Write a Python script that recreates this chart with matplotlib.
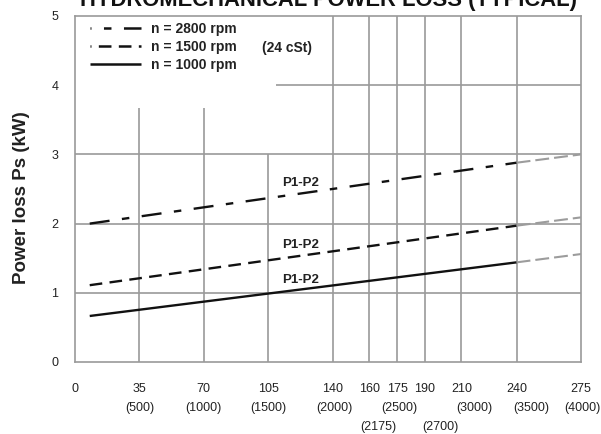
import matplotlib
matplotlib.use("Agg")
import matplotlib.pyplot as plt
from matplotlib.lines import Line2D

plt.rcParams['font.family'] = ['Liberation Sans', 'DejaVu Sans']
plt.rcParams['lines.scale_dashes'] = False

# ---- data ----
x_ticks = [0, 35, 70, 105, 140, 160, 175, 190, 210, 240, 275]
y_ticks = [0, 1, 2, 3, 4, 5]
rpm_labels = ["(500)", "(1000)", "(1500)", "(2000)", "(2500)", "(3000)", "(3500)", "(4000)"]
rpm_pos = [35, 70, 105, 141, 176.5, 217, 248, 276]
rpm_labels2 = ["(2175)", "(2700)"]
rpm_pos2 = [165, 198.5]

x_pts = [8, 240, 275]          # start, end of solid (black) part, end of grey extension
loss_2800 = [2.00, 2.88, 3.00]
loss_1500 = [1.11, 1.97, 2.09]
loss_1000 = [0.665, 1.44, 1.56]
series_names = ["n = 2800 rpm", "n = 1500 rpm", "n = 1000 rpm"]
label_pos_x = 122.8
label_pos_y = [2.59, 1.69, 1.185]

# gridline extents
vgrid_x = [35, 70, 105, 140, 160, 175, 190, 210, 240]
vgrid_top = [3.67, 3.67, 3.0, 5, 5, 5, 5, 5, 5]
hgrid_y = [1, 2, 3, 4]
hgrid_start = [0, 0, 0, 109]

GRID = "#9a9a9a"
TXT = "#222222"

fig = plt.figure(figsize=(6.01, 4.34), dpi=100)
ax = fig.add_axes([75/601, 1-362/434, 506/601, 346/434])
ax.set_xlim(0, 275)
ax.set_ylim(0, 5)

for s in ax.spines.values():
    s.set_color(GRID)
    s.set_linewidth(1.2)

ax.vlines(vgrid_x, 0, vgrid_top, colors=GRID, lw=1.2, zorder=1)
ax.hlines(hgrid_y, hgrid_start, 275, colors=GRID, lw=1.2, zorder=1)

ls_2800 = (0, (14.4, 9.0, 5.4, 9.0))
ls_1500 = (0, (9.1, 5.3))
ls_grey = (0, (10.0, 3.6))

series = [loss_2800, loss_1500, loss_1000]
styles = [ls_2800, ls_1500, '-']
for vals, st in zip(series, styles):
    ax.plot(x_pts[:2], vals[:2], color="#111111", lw=1.7, linestyle=st, zorder=3,
            solid_capstyle='butt', dash_capstyle='butt')
    ax.plot(x_pts[1:], vals[1:], color="#9c9c9c", lw=1.5, linestyle=ls_grey, zorder=3,
            dash_capstyle='butt')

for yv in label_pos_y:
    ax.text(label_pos_x, yv, "P1-P2", ha='center', va='center', fontsize=9.5,
            fontweight='bold', color=TXT, zorder=4)

# legend
handles = [
    Line2D([], [], color="#111111", lw=1.8, linestyle=(13.7, (14.4, 9.0, 5.4, 9.0)), dash_capstyle='butt'),
    Line2D([], [], color="#111111", lw=1.8, linestyle=(8.4, (9.1, 5.3)), dash_capstyle='butt'),
    Line2D([], [], color="#111111", lw=1.8, linestyle='-', solid_capstyle='butt'),
]
leg = ax.legend(handles, series_names, loc='upper left', bbox_to_anchor=(15/506, 0.983),
                frameon=False, borderpad=0, borderaxespad=0, handlelength=3.7,
                handletextpad=0.7, labelspacing=0.3,
                prop={'weight': 'bold', 'size': 10})
for t in leg.get_texts():
    t.set_color(TXT)
ax.text(187/506, 1-(48-16)/346, "(24 cSt)", transform=ax.transAxes, ha='left', va='center',
        fontsize=10, fontweight='bold', color=TXT)

# ticks
ax.set_xticks(x_ticks)
ax.set_xticklabels([str(v) for v in x_ticks])
ax.set_yticks(y_ticks)
ax.set_yticklabels([str(v) for v in y_ticks])
ax.tick_params(axis='both', length=0, labelsize=9, labelcolor=TXT)
ax.tick_params(axis='x', pad=15)
ax.tick_params(axis='y', pad=12)

for lab, xv in zip(rpm_labels, rpm_pos):
    ax.text(xv, -0.66, lab, ha='center', va='center', fontsize=9, color=TXT, clip_on=False)
for lab, xv in zip(rpm_labels2, rpm_pos2):
    ax.text(xv, -0.94, lab, ha='center', va='center', fontsize=9, color=TXT, clip_on=False)

fig.text(21.7/601, 1-197.5/434, "Power loss Ps (kW)", rotation=90, ha='center', va='center',
         fontsize=13.5, fontweight='bold', color=TXT)
fig.text(329/601, 1-6/434, "HYDROMECHANICAL POWER LOSS (TYPICAL)", ha='center', va='baseline',
         fontsize=15.8, fontweight='bold', color="#111111")

fig.savefig("out.png", dpi=100)
